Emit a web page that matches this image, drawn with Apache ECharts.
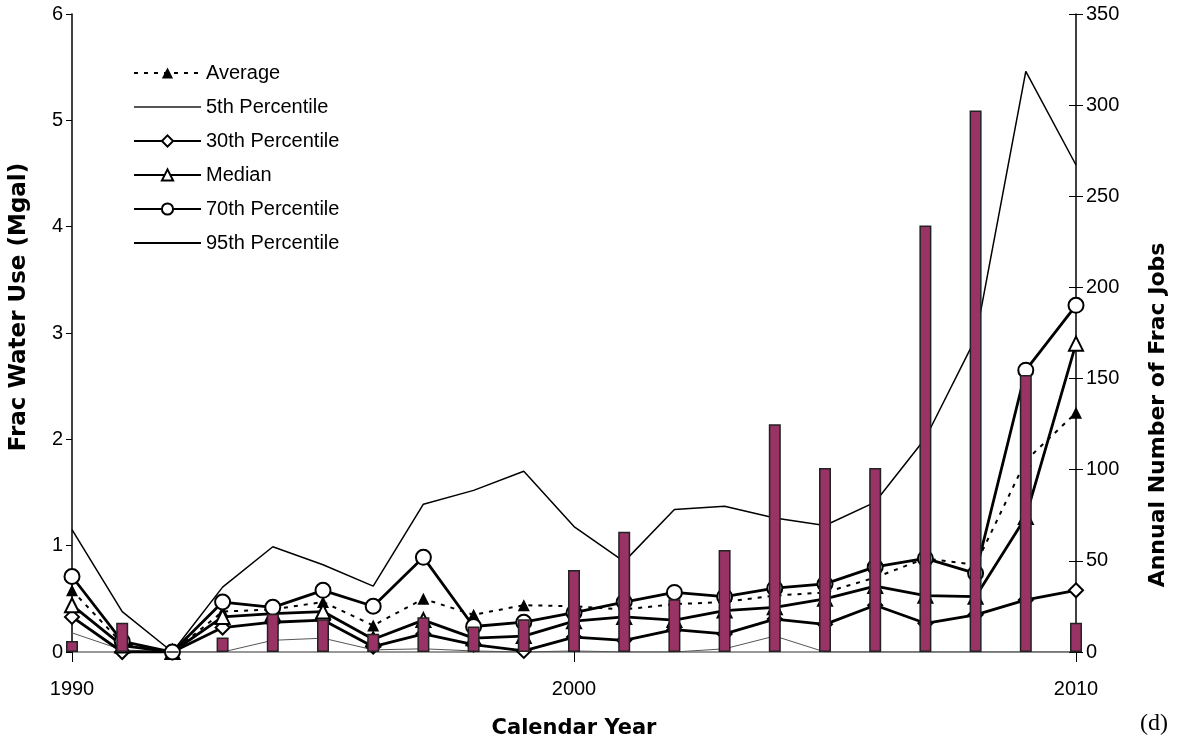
<!DOCTYPE html>
<html>
<head>
<meta charset="utf-8">
<script src="https://cdn.jsdelivr.net/npm/echarts@6/dist/echarts.min.js"></script>
<style>
html,body{margin:0;padding:0;background:#fff;}
#chart{width:1196px;height:750px;}
</style>
</head>
<body>
<div id="chart"></div>
<script>
const years = [1990,1991,1992,1993,1994,1995,1996,1997,1998,1999,2000,2001,2002,2003,2004,2005,2006,2007,2008,2009,2010];
const fracJobs = [6,16,0,8,21,18,10,19,14,18,45,66,29,56,125,101,101,234,297,152,16];
const average = [0.58,0.08,0,0.38,0.40,0.47,0.25,0.50,0.35,0.44,0.43,0.40,0.45,0.47,0.53,0.56,0.70,0.88,0.82,1.80,2.25];
const p5 = [0.18,0.02,0,0,0.11,0.13,0.02,0.03,0.01,0,0.01,0,0,0.03,0.15,0,0,0,0,0,0];
const p30 = [0.33,0,0,0.23,0.28,0.30,0.05,0.17,0.07,0.01,0.14,0.11,0.21,0.17,0.31,0.26,0.44,0.27,0.35,0.49,0.58];
const median = [0.44,0.06,0,0.33,0.36,0.38,0.12,0.30,0.13,0.15,0.29,0.33,0.30,0.39,0.42,0.50,0.62,0.53,0.52,1.27,2.90];
const p70 = [0.71,0.10,0,0.47,0.42,0.58,0.43,0.89,0.24,0.28,0.37,0.47,0.56,0.52,0.60,0.64,0.80,0.88,0.74,2.65,3.26];
const p95 = [1.15,0.38,0,0.61,0.99,0.82,0.62,1.39,1.52,1.70,1.18,0.85,1.34,1.37,1.26,1.19,1.41,2.01,2.95,5.46,4.58];
const leftTicks = [0,1,2,3,4,5,6];
const rightTicks = [0,50,100,150,200,250,300,350];
const xTicks = [1990,2000,2010];

const pair = arr => years.map((y,i)=>[y,arr[i]]);
const FONT = "'Liberation Sans', Arial, sans-serif";
const NAMEFONT = "'DejaVu Sans', 'Liberation Sans', Arial, sans-serif";

const chart = echarts.init(document.getElementById('chart'), null, {renderer:'canvas'});
const lineBase = {type:'line', xAxisIndex:0, yAxisIndex:0, z:2, showAllSymbol:true, animation:false};
chart.setOption({
  animation:false,
  backgroundColor:'#fff',
  grid:{left:72, right:120, top:14, bottom:98, containLabel:false, outerBoundsMode:'none'},
  legend:{
    orient:'vertical', left:133, top:63, padding:0, itemWidth:67, itemHeight:14, itemGap:14,
    textStyle:{fontFamily:FONT, fontSize:20, lineHeight:20, color:'#000'},
    data:[
      {name:'Average'},
      {name:'5th Percentile', itemStyle:{opacity:0}},
      {name:'30th Percentile'},
      {name:'Median'},
      {name:'70th Percentile'},
      {name:'95th Percentile', itemStyle:{opacity:0}}
    ]
  },
  xAxis:{
    type:'value', min:xTicks[0], max:xTicks[xTicks.length-1], interval:10,
    axisLine:{show:true, onZero:false, lineStyle:{color:'#777', width:1.5}},
    axisTick:{show:true, length:10, lineStyle:{color:'#000', width:1}},
    axisLabel:{fontFamily:FONT, fontSize:20, color:'#000', margin:27, formatter:v=>String(v)},
    splitLine:{show:false},
    name:'Calendar Year', nameLocation:'middle', nameGap:66,
    nameTextStyle:{fontFamily:NAMEFONT, fontSize:21, fontWeight:'bold', color:'#000'}
  },
  yAxis:[{
    type:'value', min:leftTicks[0], max:leftTicks[leftTicks.length-1], interval:1,
    axisLine:{show:true, lineStyle:{color:'#000', width:1.5}},
    axisTick:{show:true, length:6, lineStyle:{color:'#000'}},
    axisLabel:{fontFamily:FONT, fontSize:20, color:'#000', margin:9},
    splitLine:{show:false},
    name:'Frac Water Use (Mgal)', nameLocation:'middle', nameGap:41, nameRotate:90,
    nameTextStyle:{fontFamily:NAMEFONT, fontSize:23, fontWeight:'bold', color:'#000', padding:[0,0,0,52]}
  },{
    type:'value', min:rightTicks[0], max:rightTicks[rightTicks.length-1], interval:50, position:'right',
    axisLine:{show:true, lineStyle:{color:'#000', width:1.5}},
    axisTick:{show:true, length:7, lineStyle:{color:'#000'}},
    axisLabel:{fontFamily:FONT, fontSize:20, color:'#000', margin:10},
    splitLine:{show:false},
    name:'Annual Number of Frac Jobs', nameLocation:'middle', nameGap:71, nameRotate:90,
    nameTextStyle:{fontFamily:NAMEFONT, fontSize:22, fontWeight:'bold', color:'#000', padding:[0,0,0,-164]}
  },{
    type:'value', min:rightTicks[0], max:rightTicks[rightTicks.length-1], interval:50, position:'right',
    axisLine:{show:false}, axisLabel:{show:false}, splitLine:{show:false},
    axisTick:{show:true, inside:true, length:7, lineStyle:{color:'#000'}}
  }],
  graphic:[{type:'text', left:1140, top:712, style:{text:'(d)', font:"24px 'Liberation Serif', 'Times New Roman', serif", fill:'#000'}}],
  series:[
    Object.assign({}, lineBase, {name:'Average', data:pair(average), symbol:'triangle', symbolSize:12,
      lineStyle:{color:'#000', width:2, type:[4,6]}, itemStyle:{color:'#000'}}),
    Object.assign({}, lineBase, {name:'5th Percentile', data:pair(p5), symbol:'none',
      lineStyle:{color:'#555', width:1}, itemStyle:{color:'#555'}}),
    Object.assign({}, lineBase, {name:'30th Percentile', data:pair(p30), symbol:'emptyDiamond', symbolSize:14,
      lineStyle:{color:'#000', width:2.8}, itemStyle:{color:'#000', borderWidth:1.5}}),
    Object.assign({}, lineBase, {name:'Median', data:pair(median), symbol:'emptyTriangle', symbolSize:14,
      lineStyle:{color:'#000', width:2.8}, itemStyle:{color:'#000', borderWidth:1.5}}),
    Object.assign({}, lineBase, {name:'70th Percentile', data:pair(p70), symbol:'emptyCircle', symbolSize:15,
      lineStyle:{color:'#000', width:2.8}, itemStyle:{color:'#000', borderWidth:1.5}}),
    Object.assign({}, lineBase, {name:'95th Percentile', data:pair(p95), symbol:'none',
      lineStyle:{color:'#000', width:1.5}, itemStyle:{color:'#000'}}),
    {type:'bar', name:'Frac Jobs', xAxisIndex:0, yAxisIndex:1, z:3, barWidth:12, data:pair(fracJobs),
      itemStyle:{color:'#993366', borderColor:'#222', borderWidth:1.5}}
  ]
});
</script>
</body>
</html>
